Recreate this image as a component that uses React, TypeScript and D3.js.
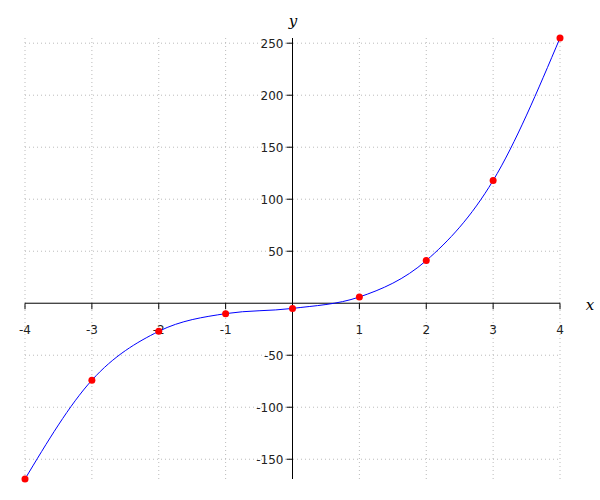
import React from "react";
import * as d3 from "d3";

const xValues = [-4, -3, -2, -1, 0, 1, 2, 3, 4];
const yValues = [-169, -74, -27, -10, -5, 6, 41, 118, 255];
const xTicks = [-4, -3, -2, -1, 1, 2, 3, 4];
const yTicks = [-150, -100, -50, 50, 100, 150, 200, 250];

export default function App() {
  const width = 600;
  const height = 500;
  const x = d3.scaleLinear().domain([-4, 4]).range([25, 560]);
  const y = d3.scaleLinear().domain([-169, 255]).range([479, 38]);
  const pts = xValues.map((v, i) => [v, yValues[i]] as [number, number]);
  const line = d3
    .line<[number, number]>()
    .x((d) => x(d[0]))
    .y((d) => y(d[1]))
    .curve(d3.curveMonotoneX);
  const font = "DejaVu Sans, sans-serif";
  const x0 = x(0);
  const y0 = y(0);
  return (
    <svg
      width={width}
      height={height}
      style={{ position: "absolute", left: 0, top: 0 }}
    >
      <rect width={width} height={height} fill="#fff" />
      <g stroke="#bbb" strokeWidth={1} strokeDasharray="1,3" fill="none">
        {xTicks.map((t) => (
          <line key={"gx" + t} x1={x(t)} x2={x(t)} y1={y(255)} y2={y(-169)} />
        ))}
        {yTicks.map((t) => (
          <line key={"gy" + t} x1={x(-4)} x2={x(4)} y1={y(t)} y2={y(t)} />
        ))}
      </g>
      <g stroke="#000" strokeWidth={1}>
        <line x1={x(-4)} x2={x(4)} y1={y0} y2={y0} />
        <line x1={x0} x2={x0} y1={y(255)} y2={y(-169)} />
        {xTicks.map((t) => (
          <line key={"tx" + t} x1={x(t)} x2={x(t)} y1={y0} y2={y0 + 6} />
        ))}
        {yTicks.map((t) => (
          <line key={"ty" + t} x1={x0 - 6} x2={x0} y1={y(t)} y2={y(t)} />
        ))}
      </g>
      <g fontFamily={font} fontSize={12} fill="#222">
        {xTicks.map((t) => (
          <text key={"lx" + t} x={x(t)} y={y0 + 31} textAnchor="middle">
            {t}
          </text>
        ))}
        {yTicks.map((t) => (
          <text key={"ly" + t} x={x0 - 9} y={y(t) + 4.5} textAnchor="end">
            {t}
          </text>
        ))}
      </g>
      <path d={line(pts) || ""} fill="none" stroke="#00f" strokeWidth={1} />
      {pts.map((p, i) => (
        <circle key={"p" + i} cx={x(p[0])} cy={y(p[1])} r={3.5} fill="#f00" />
      ))}
      <text
        x={590}
        y={310}
        textAnchor="middle"
        fontFamily="DejaVu Serif, serif"
        fontStyle="italic"
        fontSize={15}
      >
        x
      </text>
      <text
        x={293}
        y={26}
        textAnchor="middle"
        fontFamily="DejaVu Serif, serif"
        fontStyle="italic"
        fontSize={15}
      >
        y
      </text>
    </svg>
  );
}
